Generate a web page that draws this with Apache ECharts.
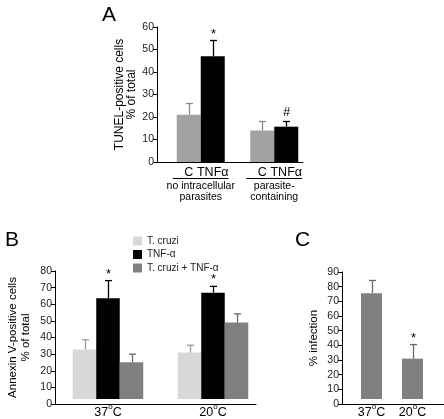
<!DOCTYPE html>
<html><head><meta charset="utf-8">
<script src="https://cdn.jsdelivr.net/npm/echarts@6/dist/echarts.min.js"></script>
<style>html,body{margin:0;padding:0;background:#fff}#c{width:444px;height:419px}</style>
</head><body><div id="c"></div>
<script>
// ---------- Panel A ----------
const aGroups = ['no intracellular\nparasites', 'parasite-\ncontaining'];
const aSeriesNames = ['C', 'TNFα'];
const aValues = [[21, 14], [47, 15.7]];
const aErrors = [[5, 4], [7, 2.3]];
const aMarks = [['', ''], ['*', '#']];
const aMax = 60;

// ---------- Panel B ----------
const bCategories = ['37°C', '20°C'];
const bSeriesNames = ['T. cruzi', 'TNF-α', 'T. cruzi + TNF-α'];
const bValues = [[31, 29], [63, 66.4], [23, 47.8]];
const bErrors = [[6, 4.6], [11, 4], [5, 5.4]];
const bMarks = [['', ''], ['*', '*'], ['', '']];
const bMax = 80;

// ---------- Panel C ----------
const cCategories = ['37°C', '20°C'];
const cValues = [75, 28.6];
const cErrors = [9, 10];
const cMarks = ['', '*'];
const cMax = 90;

const tickInterval = 10;

const FONT = '"Liberation Sans", Arial, sans-serif';
const aColors = ['#a2a2a2', '#000000'];
const aErrColors = ['#8a8a8a', '#000000'];
const bColors = ['#d8d8d8', '#000000', '#808080'];
const bErrColors = ['#9a9a9a', '#000000', '#6a6a6a'];
const cColor = '#808080';

function errSeries(xi, yi, vals, errs, marks, offset, color) {
  return {
    type: 'custom', xAxisIndex: xi, yAxisIndex: yi, clip: false, z: 3,
    data: vals.map((v, j) => [j, v, errs[j]]),
    renderItem(params, api) {
      const c = api.value(0), v = api.value(1), e = api.value(2);
      const p0 = api.coord([c, v]);
      const p1 = api.coord([c, v + e]);
      const x = Math.round(p0[0] + offset) + 0.5;
      const st = { stroke: color, lineWidth: 1.3 };
      const children = [
        { type: 'line', shape: { x1: x, y1: p0[1], x2: x, y2: p1[1] }, style: st },
        { type: 'line', shape: { x1: x - 3.5, y1: p1[1], x2: x + 3.5, y2: p1[1] }, style: st }
      ];
      const m = marks[params.dataIndex];
      if (m) {
        children.push({ type: 'text', style: { text: m, x: x, y: p1[1] - (m === '*' ? 0 : 3),
          textAlign: 'center', textVerticalAlign: 'bottom', fontSize: 13,
          fontFamily: FONT, fill: '#000' } });
      }
      return { type: 'group', children };
    }
  };
}

function underlineSeries(xi, yi, n, frac) {
  return {
    type: 'custom', xAxisIndex: xi, yAxisIndex: yi, clip: false, silent: true,
    data: Array.from({ length: n }, (_, j) => [j, 0]),
    renderItem(params, api) {
      const p = api.coord([api.value(0), 0]);
      const w = api.size([1, 0])[0] * frac;
      const y = Math.round(p[1] + 16) + 0.5;
      return { type: 'line', shape: { x1: p[0] - w / 2, y1: y, x2: p[0] + w / 2, y2: y },
        style: { stroke: '#000', lineWidth: 1 } };
    }
  };
}

const supFmt = v => v.replace('°', '{s|o}').replace(/^(\d+)/, '{n|$1}').replace(/C$/, '{n|C}');
const catLabel = { show: true, interval: 0, margin: 4, fontSize: 12.5, lineHeight: 16, color: '#000', fontFamily: FONT,
  formatter: supFmt, rich: {
    n: { fontSize: 12.5, lineHeight: 16, verticalAlign: 'bottom', color: '#000', fontFamily: FONT },
    s: { fontSize: 8, lineHeight: 16, verticalAlign: 'top', color: '#000', fontFamily: FONT }
  } };

function visibleY(gi, max, name, gap, nfs) {
  return {
    gridIndex: gi, type: 'value', min: 0, max: max, interval: tickInterval,
    axisLine: { show: true, lineStyle: { color: '#000', width: 1 } },
    axisTick: { show: true, length: 4, lineStyle: { color: '#000' } },
    axisLabel: { fontSize: 10.5, color: '#222', margin: 3, fontFamily: FONT },
    splitLine: { show: false },
    name: name, nameLocation: 'middle', nameGap: gap, nameRotate: 90,
    nameTextStyle: { fontSize: nfs, lineHeight: 12.5, color: '#000', fontFamily: FONT }
  };
}
function hiddenY(gi, max) {
  return { gridIndex: gi, type: 'value', min: 0, max: max, show: false };
}
function lineX(gi) {
  return { gridIndex: gi, type: 'value', min: 0, max: 1,
    axisLine: { show: true, onZero: false, lineStyle: { color: '#000', width: 1 } },
    axisTick: { show: false }, axisLabel: { show: false }, splitLine: { show: false } };
}

const series = [];
// A bars
const aBW = 24;
aSeriesNames.forEach((nm, i) => {
  series.push({
    name: nm, type: 'bar', xAxisIndex: 1, yAxisIndex: 1, barWidth: aBW, barGap: '0%',
    data: aValues[i], itemStyle: { color: aColors[i] },
    label: { show: true, formatter: nm, position: ['50%', '100%'], offset: [0, 4],
      align: 'center', verticalAlign: 'top', fontSize: 12.5, color: '#000', fontFamily: FONT }
  });
});
aSeriesNames.forEach((nm, i) => {
  series.push(errSeries(1, 1, aValues[i], aErrors[i], aMarks[i], (i - (aSeriesNames.length - 1) / 2) * aBW, aErrColors[i]));
});
series.push(underlineSeries(1, 1, aGroups.length, 0.76));

// B bars
const bBW = 23.5;
bSeriesNames.forEach((nm, i) => {
  series.push({
    name: nm, type: 'bar', xAxisIndex: 3, yAxisIndex: 3, barWidth: bBW, barGap: '0%',
    data: bValues[i], itemStyle: { color: bColors[i] }
  });
});
bSeriesNames.forEach((nm, i) => {
  series.push(errSeries(3, 3, bValues[i], bErrors[i], bMarks[i], (i - (bSeriesNames.length - 1) / 2) * bBW, bErrColors[i]));
});

// C bars
series.push({ name: '% infection', type: 'bar', xAxisIndex: 5, yAxisIndex: 5, barWidth: 21,
  data: cValues, itemStyle: { color: cColor } });
series.push(errSeries(5, 5, cValues, cErrors, cMarks, 0, '#6a6a6a'));

const option = {
  animation: false,
  textStyle: { fontFamily: FONT },
  title: [
    { text: 'A', left: 97, top: 0, textStyle: { fontSize: 21, fontWeight: 'normal', color: '#000', fontFamily: FONT } },
    { text: 'B', left: 0, top: 225, textStyle: { fontSize: 21, fontWeight: 'normal', color: '#000', fontFamily: FONT } },
    { text: 'C', left: 290, top: 225, textStyle: { fontSize: 21, fontWeight: 'normal', color: '#000', fontFamily: FONT } }
  ],
  legend: {
    data: bSeriesNames, orient: 'vertical', left: 128, top: 231, padding: 5,
    itemWidth: 9, itemHeight: 9, itemGap: 3.5, icon: 'rect',
    textStyle: { fontSize: 10, color: '#222', fontFamily: FONT, lineHeight: 10 }
  },
  grid: [
    { left: 157, top: 27, width: 146, height: 135 },
    { left: 164, top: 27, width: 147, height: 135 },
    { left: 55, top: 271, width: 201, height: 133 },
    { left: 55.5, top: 271, width: 210, height: 133 },
    { left: 342, top: 272, width: 102, height: 132 },
    { left: 351, top: 272, width: 82, height: 132 }
  ],
  xAxis: [
    lineX(0),
    { gridIndex: 1, type: 'category', data: aGroups, axisLine: { show: false }, axisTick: { show: false },
      axisLabel: { interval: 0, margin: 19, fontSize: 10.5, lineHeight: 10.5, color: '#000', fontFamily: FONT } },
    lineX(2),
    { gridIndex: 3, type: 'category', data: bCategories, axisLine: { show: false }, axisTick: { show: false }, axisLabel: catLabel },
    lineX(4),
    { gridIndex: 5, type: 'category', data: cCategories, axisLine: { show: false }, axisTick: { show: false }, axisLabel: catLabel }
  ],
  yAxis: [
    visibleY(0, aMax, 'TUNEL-positive cells\n% of total', 19, 12),
    hiddenY(1, aMax),
    visibleY(2, bMax, 'Annexin V-positive cells\n% of total', 23, 11.5),
    hiddenY(3, bMax),
    visibleY(4, cMax, '% infection', 22, 11.5),
    hiddenY(5, cMax)
  ],
  series: series
};
const chart = echarts.init(document.getElementById('c'), null, { renderer: 'canvas' });
chart.setOption(option);
</script></body></html>
